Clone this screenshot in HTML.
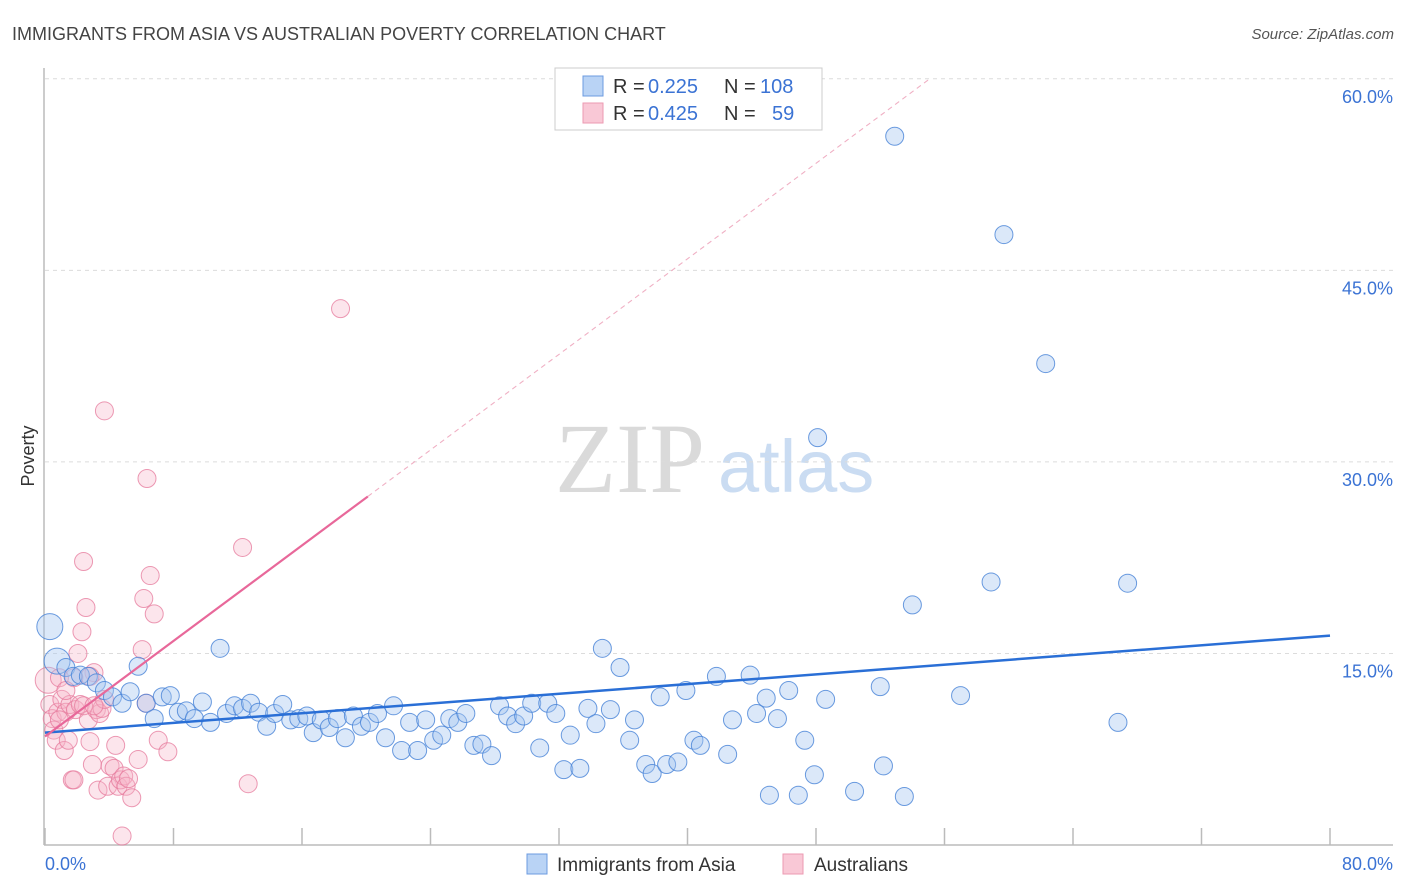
<!DOCTYPE html>
<html><head><meta charset="utf-8"><style>
body{margin:0;background:#fff;font-family:"Liberation Sans",sans-serif;}
svg{display:block}
</style></head><body>
<svg id="chart" width="1406" height="892">
<text x="12" y="40" font-size="18" fill="#444">IMMIGRANTS FROM ASIA VS AUSTRALIAN POVERTY CORRELATION CHART</text>
<text x="1394" y="39" font-size="15" fill="#555" font-style="italic" text-anchor="end">Source: ZipAtlas.com</text>
<text x="555" y="492" font-size="100" fill="#dadada" font-family="Liberation Serif,serif">ZIP</text>
<text x="718" y="492" font-size="74" fill="#cadcf2">atlas</text>
<g id="grid"></g><g id="axes"></g><g id="pink"></g><g id="blue"></g><g id="trends"></g>
<text x="34" y="456" font-size="18" fill="#333" transform="rotate(-90 34 456)" text-anchor="middle">Poverty</text>
<text x="45" y="870" font-size="18" fill="#3b73d4">0.0%</text>
<text x="1393" y="870" font-size="18" fill="#3b73d4" text-anchor="end">80.0%</text>
<g>
<rect x="555" y="68" width="267" height="62" fill="#fff" stroke="#ccc"/>
<rect x="583" y="76" width="20" height="20" fill="#b9d3f5" stroke="#6c9be0"/>
<rect x="583" y="103" width="20" height="20" fill="#f9c8d6" stroke="#ec9ab2"/>
<text x="613" y="93" font-size="20" fill="#333">R =</text>
<text x="648" y="93" font-size="20" fill="#3b73d4">0.225</text>
<text x="724" y="93" font-size="20" fill="#333">N =</text>
<text x="760" y="93" font-size="20" fill="#3b73d4">108</text>
<text x="613" y="120" font-size="20" fill="#333">R =</text>
<text x="648" y="120" font-size="20" fill="#3b73d4">0.425</text>
<text x="724" y="120" font-size="20" fill="#333">N =</text>
<text x="772" y="120" font-size="20" fill="#3b73d4">59</text>
</g>
<g>
<rect x="527" y="854" width="20" height="20" fill="#b9d3f5" stroke="#6c9be0"/>
<text x="557" y="871" font-size="19" fill="#333">Immigrants from Asia</text>
<rect x="783" y="854" width="20" height="20" fill="#f9c8d6" stroke="#ec9ab2"/>
<text x="814" y="871" font-size="19" fill="#333">Australians</text>
</g>
</svg>
<script>
const yTicks=[15,30,45,60];
const yTickLabels=["15.0%","30.0%","45.0%","60.0%"];
const xTicks=[0,8,16,24,32,40,48,56,64,72,80];
const blueX=[0.3,0.75,1.3,1.75,2.2,2.7,3.2,3.7,4.2,4.8,5.3,5.8,6.3,6.8,7.3,7.8,8.3,8.8,9.3,9.8,10.3,10.9,11.3,11.8,12.3,12.8,13.3,13.8,14.3,14.8,15.3,15.8,16.3,16.7,17.2,17.7,18.2,18.7,19.2,19.7,20.2,20.7,21.2,21.7,22.2,22.7,23.2,23.7,24.2,24.7,25.2,25.7,26.2,26.7,27.2,27.8,28.3,28.8,29.3,29.8,30.3,30.8,31.3,31.8,32.3,32.7,33.3,33.8,34.3,34.7,35.2,35.8,36.4,36.7,37.4,37.8,38.3,38.7,39.4,39.9,40.4,40.8,41.8,42.5,42.8,43.9,44.3,44.9,45.1,45.6,46.3,46.9,47.3,47.9,48.1,48.6,50.4,52.0,52.2,52.9,53.5,54.0,57.0,58.9,59.7,62.3,66.8,67.4];
const blueY=[17.1,14.4,13.9,13.2,13.3,13.2,12.7,12.1,11.6,11.1,12.0,14.0,11.1,9.9,11.6,11.7,10.4,10.5,9.9,11.2,9.6,15.4,10.3,10.9,10.7,11.1,10.4,9.3,10.3,11.0,9.8,9.9,10.1,8.8,9.8,9.2,9.9,8.4,10.1,9.3,9.6,10.3,8.4,10.9,7.4,9.6,7.4,9.8,8.2,8.6,9.9,9.6,10.3,7.8,7.9,7.0,10.9,10.1,9.5,10.1,11.1,7.6,11.1,10.3,5.9,8.6,6.0,10.7,9.5,15.4,10.6,13.9,8.2,9.8,6.3,5.6,11.6,6.3,6.5,12.1,8.2,7.8,13.2,7.1,9.8,13.3,10.3,11.5,3.9,9.9,12.1,3.9,8.2,5.5,31.9,11.4,4.2,12.4,6.2,55.5,3.8,18.8,11.7,20.6,47.8,37.7,9.6,20.5];
const pinkX=[0.2,0.3,0.45,0.55,0.7,0.8,0.9,1.05,1.2,1.3,1.45,1.55,1.7,1.8,1.9,2.05,2.2,2.3,2.4,2.55,2.7,2.8,2.95,3.05,3.2,3.3,3.4,3.55,3.7,3.9,4.05,4.3,4.4,4.55,4.7,4.8,4.9,5.05,5.2,5.4,5.8,6.05,6.15,6.3,6.35,6.55,6.8,7.05,7.65,12.3,12.65,18.4,1.8,0.9,2.8,1.3,3.7,2.4,3.05];
const pinkY=[12.9,11.0,9.9,9.0,8.2,10.4,13.1,11.4,7.4,10.4,8.2,11.0,5.1,5.1,10.6,15.0,11.0,16.7,22.2,18.6,9.8,8.1,6.3,13.5,10.6,4.3,10.3,10.7,34.0,4.6,6.2,6.0,7.8,4.6,5.1,0.7,5.4,4.6,5.2,3.7,6.7,15.3,19.3,11.1,28.7,21.1,18.1,8.2,7.3,23.3,4.8,42.0,13.1,9.8,13.2,12.1,11.4,10.9,10.9];
const blueTrend=[8.8,16.4];
const pinkTrend=[8.5,0.935];
const pinkSolidEnd=20.1;

const NS="http://www.w3.org/2000/svg";
const X0=45,X1=1330,Y0=845,PPY=12.77;
const sx=v=>X0+(v/80)*(X1-X0);
const sy=v=>Y0-v*PPY;
function mk(tag,attrs,parent){const e=document.createElementNS(NS,tag);for(const k in attrs)e.setAttribute(k,attrs[k]);parent.appendChild(e);return e;}
const grid=document.getElementById('grid'),axes=document.getElementById('axes');
yTicks.forEach((t,i)=>{
  const l=mk('line',{x1:45,x2:1393,y1:sy(t),y2:sy(t),stroke:'#dcdcdc','stroke-dasharray':'4,4'},grid);
  
  
  const tx=mk('text',{x:1393,y:sy(t)+24,'font-size':18,fill:'#3b73d4','text-anchor':'end'},grid);
  tx.textContent=yTickLabels[i];
  
  
});
const ya=mk('line',{x1:44,x2:44,y1:68,y2:845,stroke:'#bbb','stroke-width':1.5},axes);


const xa=mk('line',{x1:44,x2:1393,y1:845,y2:845,stroke:'#bbb','stroke-width':1.5},axes);


xTicks.forEach(t=>{
  const l=mk('line',{x1:sx(t),x2:sx(t),y1:828,y2:845,stroke:'#bbb','stroke-width':1.5},axes);
  
  
});
function pts(xs,ys,g,fill,stroke,name){
  xs.forEach((x,i)=>{
    const big=(i<2&&name==='blue-point')||(i===0&&name==='pink-point');
    const c=mk('circle',{cx:sx(x),cy:sy(ys[i]),r:big?13:9,fill:fill,stroke:stroke,'stroke-width':1},g);
    
    
  });
}
pts(pinkX,pinkY,document.getElementById('pink'),'rgba(246,180,200,0.35)','rgba(230,120,155,0.75)','pink-point');
pts(blueX,blueY,document.getElementById('blue'),'rgba(165,198,240,0.4)','rgba(70,130,215,0.8)','blue-point');
const tr=document.getElementById('trends');
const bl=mk('line',{x1:sx(0),y1:sy(blueTrend[0]),x2:sx(80),y2:sy(blueTrend[1]),stroke:'#2a6fd6','stroke-width':2.5},tr);


const pEnd=pinkTrend[0]+pinkTrend[1]*pinkSolidEnd;
const ps=mk('line',{x1:sx(0),y1:sy(pinkTrend[0]),x2:sx(pinkSolidEnd),y2:sy(pEnd),stroke:'#e8689a','stroke-width':2.2},tr);


const xTop=(60-pinkTrend[0])/pinkTrend[1];
const pd=mk('line',{x1:sx(pinkSolidEnd),y1:sy(pEnd),x2:sx(xTop),y2:sy(60),stroke:'#f0b0c4','stroke-width':1.1,'stroke-dasharray':'5,4'},tr);


</script>
</body></html>
